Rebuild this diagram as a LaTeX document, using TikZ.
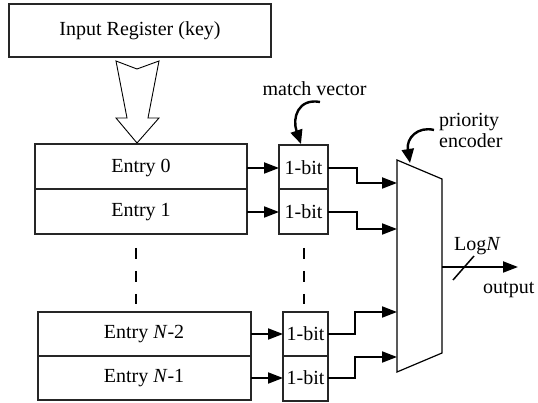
\documentclass[tikz,border=0pt]{standalone}
\usepackage{fontspec}
\setmainfont{Liberation Serif}
\usetikzlibrary{arrows.meta}
\begin{document}
\begin{tikzpicture}[x=1pt,y=-1pt,
  box/.style={draw=black!85,line width=1.1pt},
  lbl/.style={font=\fontsize{20}{21}\selectfont,inner sep=0pt},
  wire/.style={line width=2pt,-{Triangle[length=15pt,width=11pt]}},
  dashline/.style={line width=2pt,dash pattern=on 11pt off 12pt}]
\useasboundingbox (0,0) rectangle (538,403);
% input register
\draw[box] (9,4) rectangle (271,57);
\node[lbl] (ireg) at (140,31) {Input Register (key)};
% hollow arrow
\draw[line width=0.9pt] (116,61) -- (137,69) -- (159,61) -- (148,118) -- (159,118) -- (137,143) -- (116,118) -- (127,118) -- cycle;
% entry boxes (upper)
\draw[box] (35,144) rectangle (247,189);
\draw[box] (35,189) rectangle (247,234);
\node[lbl] (e0) at (141,168) {Entry 0};
\node[lbl] (e1) at (141,212) {Entry 1};
% entry boxes (lower)
\draw[box] (38,312) rectangle (251,356);
\draw[box] (38,356) rectangle (251,400);
\node[lbl] (en2) at (144,334) {Entry \textit{N}-2};
\node[lbl] (en1) at (144,378) {Entry \textit{N}-1};
% bit boxes
\draw[box] (279,145) rectangle (328,189);
\draw[box] (279,189) rectangle (328,234);
\draw[box] (283,312) rectangle (328,356);
\draw[box] (283,356) rectangle (328,401);
\node[lbl] (b0) at (303.5,168) {1-bit};
\node[lbl] (b1) at (303.5,212) {1-bit};
\node[lbl] (b2) at (305.5,334) {1-bit};
\node[lbl] (b3) at (305.5,378) {1-bit};
% dashed
\draw[dashline] (136,248) -- (136,304);
\draw[dashline] (304,248) -- (304,304);
% entry -> bit arrows
\coordinate (a0s) at (247,168); \coordinate (a0e) at (279,168);
\coordinate (a1s) at (247,212); \coordinate (a1e) at (279,212);
\coordinate (a2s) at (251,334); \coordinate (a2e) at (283,334);
\coordinate (a3s) at (251,378); \coordinate (a3e) at (283,378);
\draw[wire] (a0s) -- (a0e);
\draw[wire] (a1s) -- (a1e);
\draw[wire] (a2s) -- (a2e);
\draw[wire] (a3s) -- (a3e);
% encoder
\draw[line width=1.2pt] (397,160) -- (442,179) -- (442,353) -- (397,372) -- cycle;
% bit -> encoder
\draw[wire] (328,168) -- (357,168) -- (357,183) -- (397,183);
\draw[wire] (328,212) -- (357,212) -- (357,229) -- (397,229);
\draw[wire] (328,334) -- (355,334) -- (355,312) -- (397,312);
\draw[wire] (328,378) -- (355,378) -- (355,357) -- (397,357);
% output
\coordinate (outs) at (442,267); \coordinate (oute) at (518,267);
\draw[wire] (outs) -- (oute);
\draw[line width=1.5pt] (453,280) -- (474,256);
\node[lbl,anchor=base west] (logn) at (454,251) {Log\textit{N}};
\node[lbl,anchor=base west] (outl) at (483,294) {output};
% match vector
\node[lbl,anchor=base] (mv) at (314.5,96) {match vector};
\draw[line width=2.4pt,-{Triangle[length=14pt,width=12pt]}] (320,102) .. controls (298,98) and (292,118) .. (301,144);
% priority encoder
\node[lbl,anchor=base west] (pr) at (439,127) {priority};
\node[lbl,anchor=base west] (en) at (439,148) {encoder};
\draw[line width=2.4pt,-{Triangle[length=14pt,width=12pt]}] (434,130) .. controls (418,126) and (406,138) .. (410,163);
\end{tikzpicture}
\end{document}
